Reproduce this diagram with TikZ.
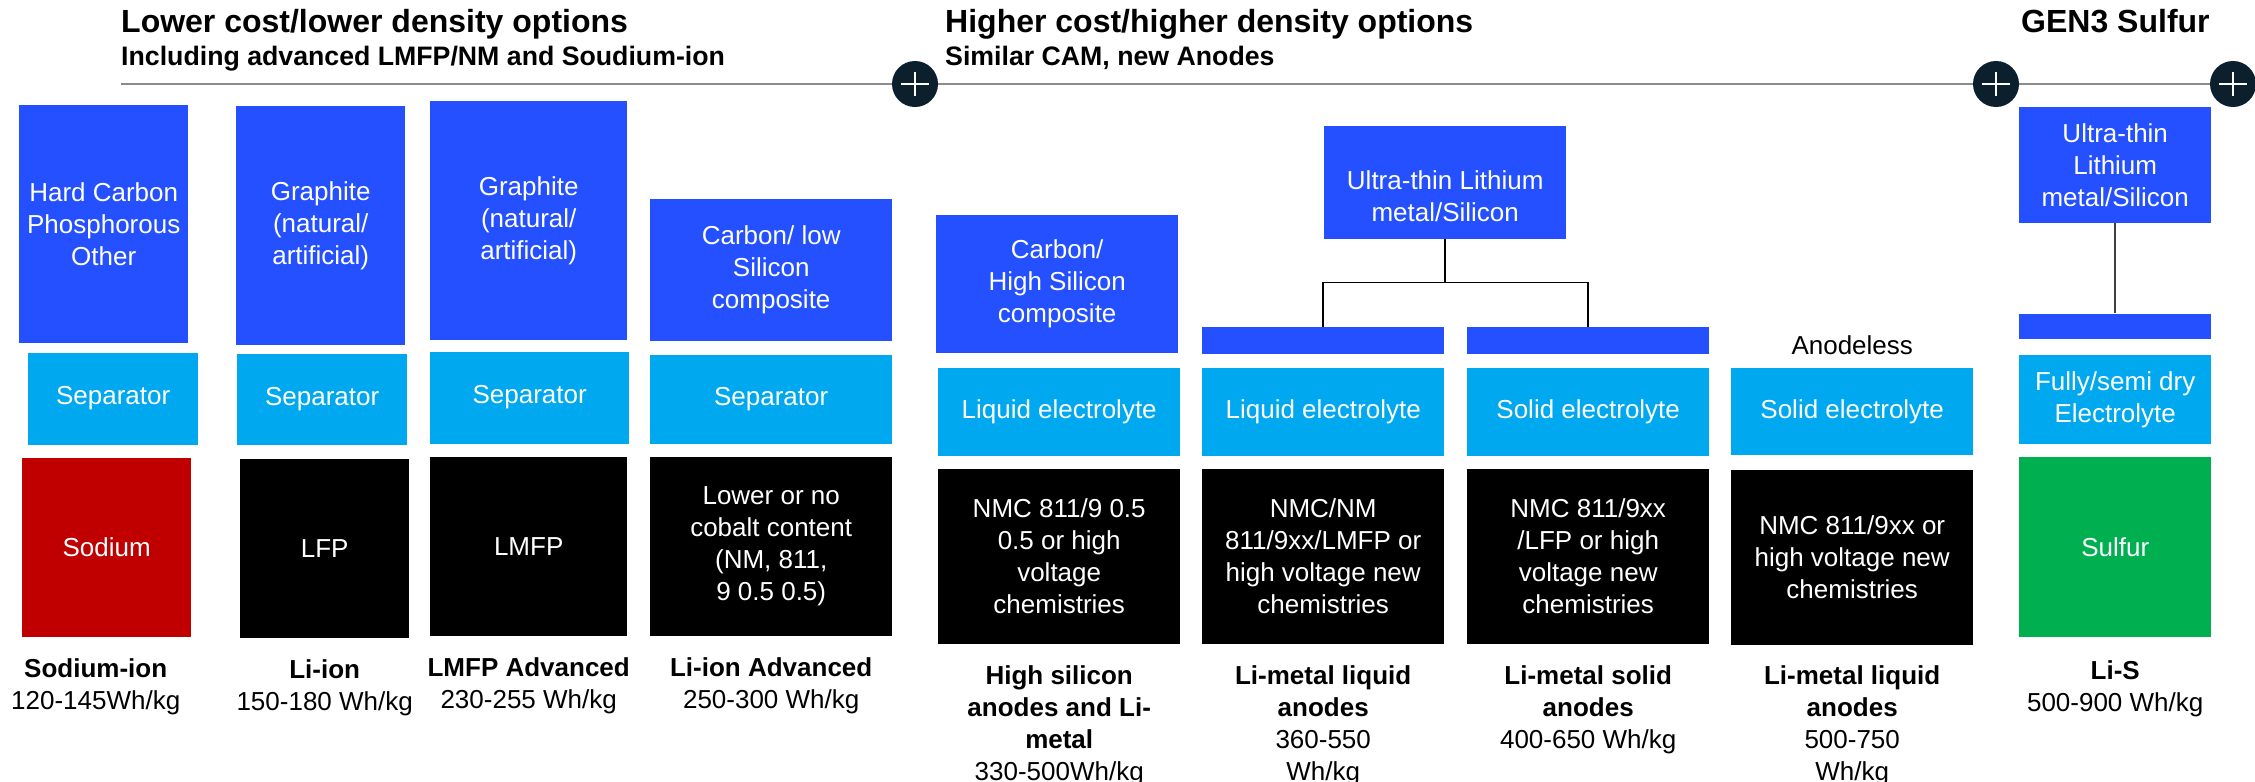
\documentclass[tikz,border=0pt]{standalone}
\usepackage{fontspec}
\setmainfont{Liberation Sans}
\usetikzlibrary{positioning,calc}
\definecolor{anodeblue}{HTML}{2450FF}
\definecolor{elecblue}{HTML}{00A8F0}
\definecolor{sodiumred}{HTML}{C00000}
\definecolor{sulfurgreen}{HTML}{00AF50}
\definecolor{dotnavy}{HTML}{0B1F2D}
\definecolor{rulegray}{HTML}{8C8C8C}
\newcommand{\boxfont}{\fontsize{26}{32}\selectfont}
\newcommand{\headfont}{\fontsize{32}{38}\selectfont\bfseries}
\newcommand{\subfont}{\fontsize{26.7}{31}\selectfont\bfseries}

\begin{document}
\begin{tikzpicture}[x=1pt,y=-1pt,node distance=13pt,every node/.style={inner sep=0pt}]
\tikzstyle{cell}=[rectangle,align=center,text=white,font=\boxfont]
  \tikzstyle{anode}=[cell,fill=anodeblue]
  \tikzstyle{separator}=[cell,fill=elecblue]
  \tikzstyle{cathode}=[cell,fill=black]
  \tikzstyle{thinbar}=[rectangle,fill=anodeblue]
  \tikzstyle{techlabel}=[align=center,font=\boxfont]
  \tikzstyle{plusdot}=[circle,fill=dotnavy,minimum size=46pt,path picture={\draw[white,line width=1.2pt] (path picture bounding box.center) ++(-14,0) -- ++(28,0) (path picture bounding box.center) ++(0,-12) -- ++(0,24);}]
  \tikzstyle{headline}=[rulegray,line width=2.5pt]
  \tikzstyle{link}=[black,line width=1.5pt]
\useasboundingbox (0,0) rectangle (2255,782);
%
% headings
\coordinate (rule0) at (121,84);
  \coordinate (rule1) at (2233,84);
  \draw[headline] (rule0) -- (rule1);
  \node[plusdot] (dot1) at (915,84) {};
  \node[plusdot] (dot2) at (1996,84) {};
  \node[plusdot] (dot3) at (2233,84) {};
  \node[anchor=base west,font=\headfont] (head0) at (121,32) {Lower cost/lower density options};
  \node[anchor=base west,font=\subfont] (sub0) at (121,65) {Including advanced LMFP/NM and Soudium-ion};
  \node[anchor=base west,font=\headfont] (head1) at (945,32) {Higher cost/higher density options};
  \node[anchor=base west,font=\subfont] (sub1) at (945,65) {Similar CAM, new Anodes};
  \node[anchor=base west,font=\headfont] (head2) at (2021,32) {GEN3 Sulfur};
%
% lower cost
\node[anode,anchor=north west,minimum width=169pt,minimum height=238pt] (anode0) at (19,105) {Hard Carbon\\Phosphorous\\Other};
  \node[separator,minimum width=170pt,minimum height=92pt] (sep0) [below=9pt of anode0,xshift=9.5pt] {Separator};
  \node[cathode,fill=sodiumred,minimum width=169pt,minimum height=179pt] (cath0) [below=13pt of sep0,xshift=-6.5pt] {Sodium};
  \node[techlabel] (lab0) [below=21pt of cath0,xshift=-11pt] {\textbf{Sodium-ion}\\120-145Wh/kg};
  \node[anode,anchor=north west,minimum width=169pt,minimum height=239pt] (anode1) at (236,106) {Graphite\\(natural/\\artificial)};
  \node[separator,minimum width=170pt,minimum height=91pt] (sep1) [below=8pt of anode1,xshift=1.5pt] {Separator};
  \node[cathode,minimum width=169pt,minimum height=179pt] (cath1) [below=14pt of sep1,xshift=2.5pt] {LFP};
  \node[techlabel] (lab1) [below=21pt of cath1] {\textbf{Li-ion}\\150-180 Wh/kg};
  \node[anode,anchor=north west,minimum width=197pt,minimum height=239pt] (anode2) at (430,101) {Graphite\\(natural/\\artificial)};
  \node[separator,minimum width=199pt,minimum height=92pt] (sep2) [below=11pt of anode2,xshift=1pt] {Separator};
  \node[cathode,minimum width=197pt,minimum height=179pt] (cath2) [below=13pt of sep2,xshift=-1pt] {LMFP};
  \node[techlabel] (lab2) [below=21pt of cath2] {\textbf{LMFP Advanced}\\230-255 Wh/kg};
  \node[anode,anchor=north west,minimum width=242pt,minimum height=142pt] (anode3) at (650,199) {Carbon/ low\\Silicon\\composite};
  \node[separator,minimum width=242pt,minimum height=89pt] (sep3) [below=of anode3] {Separator};
  \node[cathode,minimum width=242pt,minimum height=179pt] (cath3) [below=of sep3] {Lower or no\\cobalt content\\(NM, 811,\\9 0.5 0.5)};
  \node[techlabel] (lab3) [below=21pt of cath3] {\textbf{Li-ion Advanced}\\250-300 Wh/kg};
%
% higher cost
\node[anode,anchor=north west,minimum width=242pt,minimum height=138pt] (anode4) at (936,215) {Carbon/\\High Silicon\\composite};
  \node[separator,minimum width=242pt,minimum height=88pt] (sep4) [below=14pt of anode4,xshift=2pt] {Liquid electrolyte};
  \node[cathode,minimum width=242pt,minimum height=175pt] (cath4) [below=of sep4] {NMC 811/9 0.5\\0.5 or high\\voltage\\chemistries};
  \node[techlabel] (lab4) [below=21pt of cath4] {\textbf{High silicon}\\\textbf{anodes and Li-}\\\textbf{metal}\\330-500Wh/kg};
  \node[anode,anchor=north west,minimum width=242pt,minimum height=113pt,label={[cell,yshift=-14pt]center:{Ultra-thin Lithium\\metal/Silicon}}] (ultra) at (1324,126) {};
  \node[thinbar,anchor=north west,minimum width=242pt,minimum height=27pt] (bar5) at (1202,327) {};
  \node[separator,minimum width=242pt,minimum height=88pt] (sep5) [below=of bar5] {Liquid electrolyte};
  \node[cathode,minimum width=242pt,minimum height=175pt] (cath5) [below=of sep5] {NMC/NM\\811/9xx/LMFP or\\high voltage new\\chemistries};
  \node[techlabel] (lab5) [below=21pt of cath5] {\textbf{Li-metal liquid}\\\textbf{anodes}\\360-550\\Wh/kg};
  \node[thinbar,anchor=north west,minimum width=242pt,minimum height=27pt] (bar6) at (1467,327) {};
  \node[separator,minimum width=242pt,minimum height=88pt] (sep6) [below=of bar6] {Solid electrolyte};
  \node[cathode,minimum width=242pt,minimum height=175pt] (cath6) [below=of sep6] {NMC 811/9xx\\/LFP or high\\voltage new\\chemistries};
  \node[techlabel] (lab6) [below=21pt of cath6] {\textbf{Li-metal solid}\\\textbf{anodes}\\400-650 Wh/kg};
  \node[separator,anchor=north west,minimum width=242pt,minimum height=87pt] (sep7) at (1731,368) {Solid electrolyte};
  \node[font=\boxfont] (anodeless) [above=13pt of sep7] {Anodeless};
  \node[cathode,minimum width=242pt,minimum height=175pt] (cath7) [below=14pt of sep7] {NMC 811/9xx or\\high voltage new\\chemistries};
  \node[techlabel] (lab7) [below=21pt of cath7] {\textbf{Li-metal liquid}\\\textbf{anodes}\\500-750\\Wh/kg};
%
% sulfur
\node[anode,anchor=north west,minimum width=192pt,minimum height=116pt] (anode8) at (2019,107) {Ultra-thin\\Lithium\\metal/Silicon};
  \node[thinbar,minimum width=192pt,minimum height=25pt] (bar8) [below=90pt of anode8] {};
  \node[separator,minimum width=192pt,minimum height=89pt] (sep8) [below=16pt of bar8] {Fully/semi dry\\Electrolyte};
  \node[cathode,fill=sulfurgreen,minimum width=192pt,minimum height=180pt] (cath8) [below=of sep8] {Sulfur};
  \node[techlabel] (lab8) [below=23pt of cath8] {\textbf{Li-S}\\500-900 Wh/kg};

  \draw[link] (ultra.south) -- ++(0,43) -| (bar5.north);
  \draw[link] (ultra.south) -- ++(0,43) -| (bar6.north);
  \draw[link,darkgray] (anode8.south) -- (bar8.north);
\end{tikzpicture}
\end{document}
